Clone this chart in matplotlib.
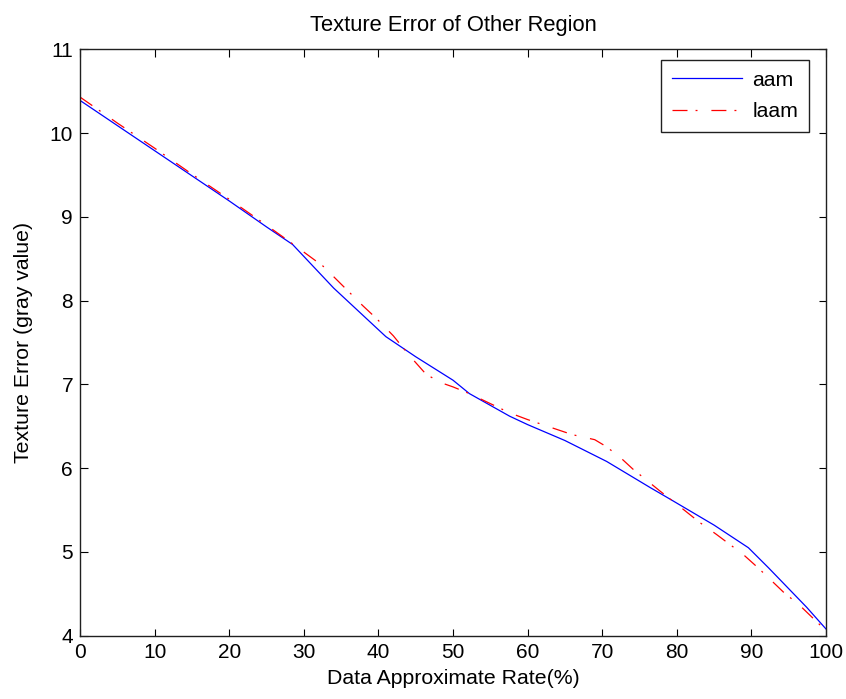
import matplotlib
matplotlib.use("Agg")
import matplotlib.pyplot as plt

# data
aam_x = [0, 5, 10, 15, 20, 25, 28.5, 34, 41, 45, 50, 52.2, 57.6, 60, 65, 70.6, 76.4, 79.1, 85, 89.6, 92.3, 97.4, 100]
aam_y = [10.39, 10.09, 9.79, 9.49, 9.19, 8.88, 8.67, 8.15, 7.57, 7.33, 7.05, 6.89, 6.62, 6.52, 6.33, 6.08, 5.77, 5.63, 5.32, 5.05, 4.81, 4.34, 4.08]

laam_x = [0, 5, 10, 15, 20, 25, 28, 32.6, 37.9, 39.7, 42, 44.2, 46.4, 48.4, 50, 52.2, 57.6, 60, 63, 66, 69, 70.5, 72.4, 74.1, 77.7, 80, 83.1, 85.3, 88.9, 90.9, 94.3, 96.5, 100]
laam_y = [10.43, 10.12, 9.82, 9.51, 9.21, 8.90, 8.71, 8.41, 7.94, 7.79, 7.58, 7.34, 7.12, 7.02, 6.97, 6.89, 6.66, 6.58, 6.49, 6.40, 6.34, 6.26, 6.13, 5.99, 5.73, 5.57, 5.35, 5.21, 4.97, 4.81, 4.52, 4.36, 4.06]

series_labels = ["aam", "laam"]
title = "Texture Error of Other Region"
xlabel = "Data Approximate Rate(%)"
ylabel = "Texture Error (gray value)"
xticks = [0, 10, 20, 30, 40, 50, 60, 70, 80, 90, 100]
yticks = [4, 5, 6, 7, 8, 9, 10, 11]

plt.rcParams['font.family'] = ['Liberation Sans', 'DejaVu Sans']
plt.rcParams['lines.scale_dashes'] = False

fs = 15.3
fig = plt.figure(figsize=(8.46, 6.99), dpi=100)
ax = fig.add_axes([80/846, 1-635.7/699, 746/846, (635.7-49.3)/699])

ax.plot(aam_x, aam_y, color=(0, 0, 1), lw=0.9, label=series_labels[0])
ax.plot(laam_x, laam_y, color=(1, 0, 0), lw=0.9,
        linestyle=(0, (10.8, 5.8, 1.4, 10.0)), label=series_labels[1])

ax.set_xlim(0, 100)
ax.set_ylim(4, 11)
ax.set_xticks(xticks)
ax.set_yticks(yticks)
ax.tick_params(direction='in', length=5.4, width=0.8, top=True, right=True,
               labelsize=15, colors='black', pad=5)
for s in ax.spines.values():
    s.set_linewidth(1.0)
    s.set_color('#202020')

ax.set_title(title, fontsize=15.8, pad=13)
ax.set_xlabel(xlabel, fontsize=fs, labelpad=5)
ax.set_ylabel(ylabel, fontsize=fs, labelpad=12)

leg = ax.legend(loc='upper right', bbox_to_anchor=((809-80)/746, (635.7-60)/586.4),
                borderaxespad=0, fontsize=fs, frameon=True, fancybox=False,
                edgecolor='#202020', framealpha=1, handlelength=3.3,
                handletextpad=0.5, labelspacing=0.6, borderpad=0.5)
leg.get_frame().set_linewidth(1.0)

fig.savefig("out.png", dpi=100)
